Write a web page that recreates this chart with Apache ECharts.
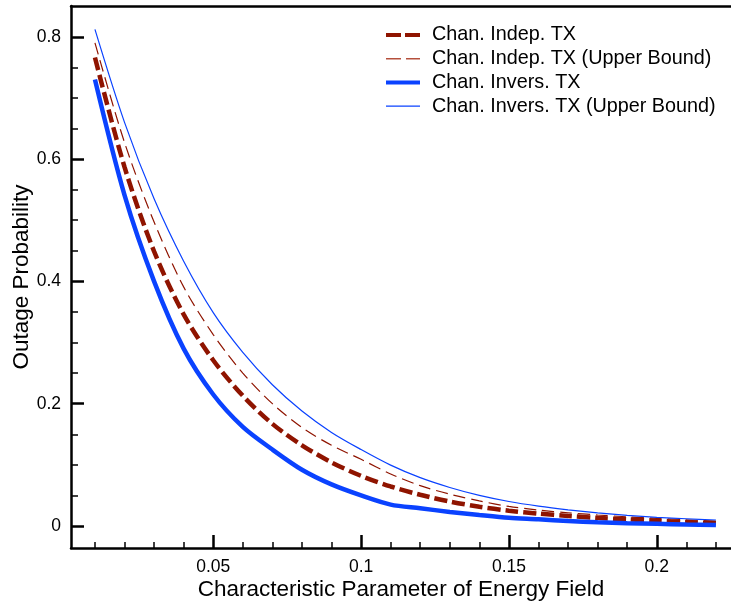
<!DOCTYPE html>
<html>
<head>
<meta charset="utf-8">
<script src="https://cdn.jsdelivr.net/npm/echarts@6/dist/echarts.min.js"></script>
<style>
html,body{margin:0;padding:0;background:#fff;}
#chart{width:731px;height:605px;}
</style>
</head>
<body>
<div id="chart"></div>
<script>
// ---- data ----
const xValues = [0.01,0.02,0.03,0.04,0.05,0.06,0.07,0.08,0.09,0.10,0.11,0.12,0.13,0.14,0.15,0.16,0.17,0.18,0.19,0.20,0.21,0.22];
const indepTX      = [0.766,0.587,0.449,0.346,0.271,0.213,0.167,0.132,0.104,0.082,0.0646,0.051,0.040,0.0315,0.025,0.0202,0.0164,0.0133,0.0108,0.0087,0.0064,0.0045];
const indepTXUpper = [0.790,0.627,0.497,0.391,0.313,0.250,0.200,0.161,0.132,0.109,0.085,0.066,0.052,0.041,0.032,0.026,0.0215,0.018,0.015,0.0126,0.0102,0.008];
const inversTX     = [0.730,0.541,0.400,0.290,0.215,0.162,0.125,0.092,0.068,0.050,0.035,0.029,0.023,0.018,0.0135,0.011,0.008,0.006,0.0045,0.0035,0.0025,0.0018];
const inversTXUpper= [0.812,0.660,0.535,0.433,0.349,0.284,0.231,0.188,0.153,0.125,0.0995,0.079,0.063,0.050,0.040,0.0325,0.0265,0.0215,0.0175,0.0142,0.0118,0.0098];
const seriesNames = ['Chan. Indep. TX','Chan. Indep. TX (Upper Bound)','Chan. Invers. TX','Chan. Invers. TX (Upper Bound)'];
const xMajorTicks = [0.05,0.1,0.15,0.2];
const xMinorTicks = [0.01,0.02,0.03,0.04,0.06,0.07,0.08,0.09,0.11,0.12,0.13,0.14,0.16,0.17,0.18,0.19,0.21,0.22];
const yMajorTicks = [0,0.2,0.4,0.6,0.8];
const yMinorTicks = [0.05,0.1,0.15,0.25,0.3,0.35,0.45,0.5,0.55,0.65,0.7,0.75];
const xTitle = 'Characteristic Parameter of Energy Field';
const yTitle = 'Outage Probability';

const FONT = "'Liberation Sans', Arial, Helvetica, sans-serif";
const RED = '#8f1400';
const BLUE = '#0a42ff';
const pairs = arr => xValues.map((x,i)=>[x,arr[i]]);

const styles = [
  {color:RED, width:4.5, type:[13,5]},
  {color:RED, width:1.2, type:[12,6]},
  {color:BLUE, width:4.5, type:'solid'},
  {color:BLUE, width:1.2, type:'solid'}
];
const legendStyles = [
  {color:RED, width:4, type:[15,4]},
  {color:'#b5503c', width:1.5, type:[15,5]},
  {color:BLUE, width:4, type:'solid'},
  {color:BLUE, width:1.2, type:'solid'}
];

const chart = echarts.init(document.getElementById('chart'), null, {renderer:'canvas'});
const XMIN = 0.0019, XMAX = 0.2251, YMIN = -0.036, YMAX = 0.8503;
const fmt = v => String(+v.toFixed(3));
const dataSets = [indepTX, indepTXUpper, inversTX, inversTXUpper];

chart.setOption({
  animation:false,
  backgroundColor:'#fff',
  grid:{left:71, right:0, top:6, bottom:57, containLabel:false, outerBoundsMode:'none'},
  legend:{
    orient:'vertical', left:379, top:20, itemWidth:34, itemHeight:14, itemGap:3.7,
    itemStyle:{color:'transparent', opacity:0, borderWidth:0},
    textStyle:{fontFamily:FONT, fontSize:19.8, color:'#000', lineHeight:20, padding:[0,0,0,7]},
    data:seriesNames.map((n,i)=>({name:n, lineStyle:legendStyles[i], itemStyle:{color:'transparent', opacity:0, borderWidth:0}}))
  },
  xAxis:[
    {type:'value', min:XMIN, max:XMAX, position:'bottom',
     name:xTitle, nameLocation:'middle', nameGap:30, nameMoveOverlap:false,
     nameTextStyle:{fontFamily:FONT, fontSize:22.5, color:'#000'},
     axisLine:{show:true, onZero:false, lineStyle:{color:'#000', width:2.5}},
     axisTick:{show:true, inside:true, length:13, customValues:xMajorTicks, lineStyle:{color:'#000', width:2.5}},
     axisLabel:{show:true, customValues:xMajorTicks, formatter:fmt, margin:10, fontFamily:FONT, fontSize:17.5, color:'#000'},
     splitLine:{show:false}},
    {type:'value', min:XMIN, max:XMAX, position:'bottom',
     axisLine:{show:false, onZero:false},
     axisTick:{show:true, inside:true, length:6, customValues:xMinorTicks, lineStyle:{color:'#000', width:1.5}},
     axisLabel:{show:false}, splitLine:{show:false}},
    {type:'value', min:XMIN, max:XMAX, position:'top',
     axisLine:{show:true, onZero:false, lineStyle:{color:'#000', width:2.5}},
     axisTick:{show:false}, axisLabel:{show:false}, splitLine:{show:false}}
  ],
  yAxis:[
    {type:'value', min:YMIN, max:YMAX, position:'left',
     name:yTitle, nameLocation:'middle', nameGap:38, nameRotate:90, nameMoveOverlap:false,
     nameTextStyle:{fontFamily:FONT, fontSize:22.5, color:'#000'},
     axisLine:{show:true, onZero:false, lineStyle:{color:'#000', width:2.5}},
     axisTick:{show:true, inside:true, length:13, customValues:yMajorTicks, lineStyle:{color:'#000', width:2.5}},
     axisLabel:{show:true, customValues:yMajorTicks, formatter:fmt, margin:10, fontFamily:FONT, fontSize:17.5, color:'#000'},
     splitLine:{show:false}},
    {type:'value', min:YMIN, max:YMAX, position:'left',
     axisLine:{show:false, onZero:false},
     axisTick:{show:true, inside:true, length:7, customValues:yMinorTicks, lineStyle:{color:'#000', width:1.5}},
     axisLabel:{show:false}, splitLine:{show:false}}
  ],
  series:seriesNames.map((n,i)=>({
    name:n, type:'line', data:pairs(dataSets[i]), showSymbol:false, symbol:'none', smooth:0.3,
    lineStyle:styles[i], itemStyle:{color:styles[i].color}, z:(i%2===0)?3:2
  }))
});
</script>
</body>
</html>
